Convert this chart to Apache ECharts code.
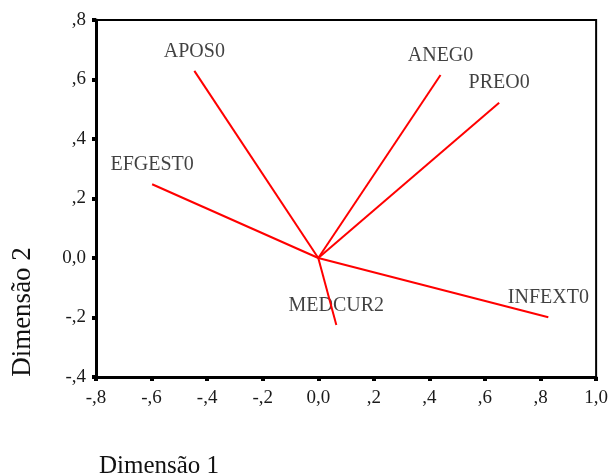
<!DOCTYPE html>
<html>
<head>
<meta charset="utf-8">
<script src="https://cdn.jsdelivr.net/npm/echarts@6/dist/echarts.min.js"></script>
<style>
  html, body { margin: 0; padding: 0; background: #ffffff; }
  #chart { width: 611px; height: 474px; }
</style>
</head>
<body>
<div id="chart"></div>
<script>
// Component loadings on the two dimensions
const variables = ['APOS0', 'ANEG0', 'PREO0', 'EFGEST0', 'INFEXT0', 'MEDCUR2'];
const dimension1 = [-0.446, 0.440, 0.651, -0.598, 0.828, 0.065];
const dimension2 = [0.629, 0.615, 0.522, 0.248, -0.199, -0.225];

// Axis tick labels (decimal comma, no leading zero)
const xTicks = [-0.8, -0.6, -0.4, -0.2, 0.0, 0.2, 0.4, 0.6, 0.8, 1.0];
const xTickLabels = ['-,8', '-,6', '-,4', '-,2', '0,0', ',2', ',4', ',6', ',8', '1,0'];
const yTicks = [-0.4, -0.2, 0.0, 0.2, 0.4, 0.6, 0.8];
const yTickLabels = ['-,4', '-,2', '0,0', ',2', ',4', ',6', ',8'];

const xTitle = 'Dimensão 1';
const yTitle = 'Dimensão 2';

const FONT = '"Liberation Serif", "DejaVu Serif", serif';

function tickLabel(ticks, labels) {
  return function (v) {
    for (let i = 0; i < ticks.length; i++) {
      if (Math.abs(ticks[i] - v) < 1e-6) return labels[i];
    }
    return '';
  };
}

const vectorSeries = variables.map(function (name, i) {
  return {
    type: 'line',
    name: name,
    data: [[0, 0], [dimension1[i], dimension2[i]]],
    symbol: 'none',
    lineStyle: { color: '#ff0000', width: 2 },
    silent: true,
    animation: false
  };
});

const labelSeries = {
  type: 'scatter',
  data: variables.map(function (name, i) {
    return { name: name, value: [dimension1[i], dimension2[i]] };
  }),
  symbolSize: 1,
  itemStyle: { color: 'rgba(0,0,0,0)' },
  label: {
    show: true,
    position: 'top',
    distance: 9,
    formatter: '{b}',
    fontFamily: FONT,
    fontSize: 20,
    lineHeight: 20,
    color: '#111111'
  },
  silent: true,
  animation: false
};

const chart = echarts.init(document.getElementById('chart'), null, { renderer: 'canvas' });

chart.setOption({
  backgroundColor: '#ffffff',
  animation: false,
  grid: {
    left: 96, right: 11, top: 20, bottom: 97,
    show: true,
    borderColor: '#000000',
    borderWidth: 2,
    backgroundColor: 'transparent'
  },
  xAxis: {
    type: 'value',
    min: -0.8, max: 1.0, interval: 0.2,
    axisLine: { show: true, onZero: false, lineStyle: { color: '#000000', width: 3 } },
    axisTick: { show: true, length: 4, lineStyle: { color: '#000000', width: 4 } },
    splitLine: { show: false },
    axisLabel: {
      formatter: tickLabel(xTicks, xTickLabels),
      fontFamily: FONT, fontSize: 19, color: '#1a1a1a', margin: 12
    }
  },
  yAxis: {
    type: 'value',
    min: -0.4, max: 0.8, interval: 0.2,
    axisLine: { show: true, onZero: false, lineStyle: { color: '#000000', width: 3 } },
    axisTick: { show: true, length: 4, lineStyle: { color: '#000000', width: 4 } },
    splitLine: { show: false },
    axisLabel: {
      formatter: tickLabel(yTicks, yTickLabels),
      fontFamily: FONT, fontSize: 19, color: '#1a1a1a', margin: 10
    }
  },
  graphic: [
    {
      type: 'text',
      left: 99, top: 454,
      style: { text: xTitle, font: '25px ' + FONT, fill: '#111111' }
    },
    {
      type: 'text',
      x: 23, y: 312,
      rotation: Math.PI / 2,
      style: {
        text: yTitle, font: '27px ' + FONT, fill: '#111111',
        align: 'center', verticalAlign: 'middle'
      }
    }
  ],
  series: vectorSeries.concat([labelSeries])
});
</script>
</body>
</html>
